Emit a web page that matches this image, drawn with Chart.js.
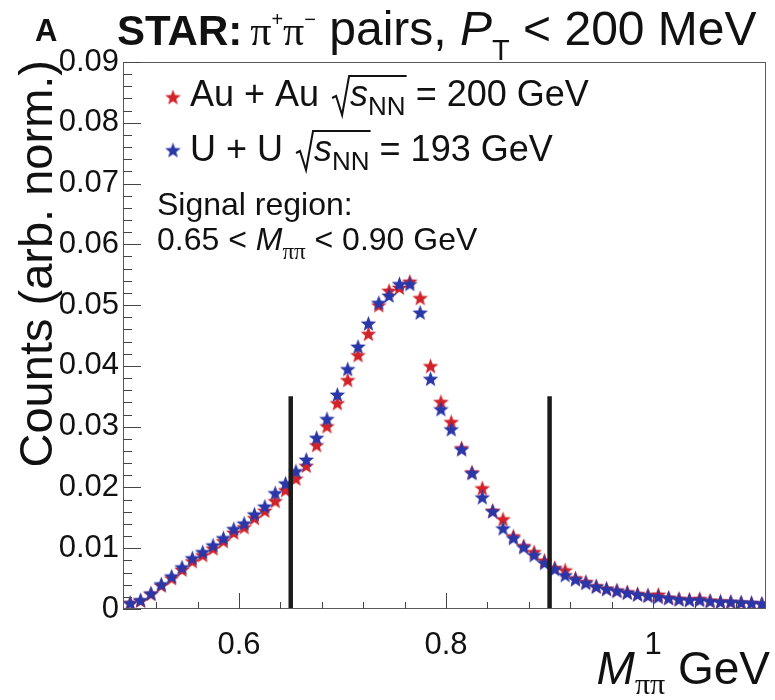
<!DOCTYPE html>
<html>
<head>
<meta charset="utf-8">
<script src="https://cdn.jsdelivr.net/npm/chart.js@4.4.1/dist/chart.umd.min.js"></script>
<style>
  html, body { margin: 0; padding: 0; background: #fff; }
  #wrap { width: 775px; height: 700px; }
</style>
</head>
<body>
<div id="wrap"><canvas id="massChart" width="775" height="700"></canvas></div>
<script>
// pi+pi- invariant mass, bin centres in GeV (10 MeV bins)
const massBins = [
  0.495, 0.505, 0.515, 0.525, 0.535, 0.545, 0.555, 0.565, 0.575, 0.585,
  0.595, 0.605, 0.615, 0.625, 0.635, 0.645, 0.655, 0.665, 0.675, 0.685,
  0.695, 0.705, 0.715, 0.725, 0.735, 0.745, 0.755, 0.765, 0.775, 0.785,
  0.795, 0.805, 0.815, 0.825, 0.835, 0.845, 0.855, 0.865, 0.875, 0.885,
  0.895, 0.905, 0.915, 0.925, 0.935, 0.945, 0.955, 0.965, 0.975, 0.985,
  0.995, 1.005, 1.015, 1.025, 1.035, 1.045, 1.055, 1.065, 1.075, 1.085,
  1.095, 1.105
];

// Au+Au at 200 GeV, normalised counts
const auAuCounts = [
  0.0010, 0.0014, 0.0025, 0.0039, 0.0051, 0.0065, 0.0079, 0.0089, 0.0100, 0.0112,
  0.0126, 0.0135, 0.0150, 0.0162, 0.0178, 0.0196, 0.0215, 0.0236, 0.0270, 0.0301,
  0.0339, 0.0377, 0.0418, 0.0453, 0.0500, 0.0524, 0.0529, 0.0539, 0.0512, 0.0400,
  0.0341, 0.0308, 0.0265, 0.0225, 0.0199, 0.0162, 0.0148, 0.0120, 0.0104, 0.0094,
  0.0080, 0.0068, 0.0064, 0.0051, 0.0045, 0.0038, 0.0034, 0.0031, 0.0028, 0.0025,
  0.0023, 0.0024, 0.0019, 0.0017, 0.0016, 0.0017, 0.0014, 0.0013, 0.0012, 0.0011,
  0.0010, 0.0009
];

// U+U at 193 GeV, normalised counts
const uuCounts = [
  0.0010, 0.0015, 0.0026, 0.0041, 0.0054, 0.0069, 0.0084, 0.0094, 0.0105, 0.0117,
  0.0132, 0.0141, 0.0156, 0.0169, 0.0191, 0.0207, 0.0227, 0.0246, 0.0282, 0.0313,
  0.0353, 0.0395, 0.0432, 0.0470, 0.0504, 0.0516, 0.0535, 0.0535, 0.0488, 0.0379,
  0.0329, 0.0296, 0.0263, 0.0224, 0.0184, 0.0161, 0.0133, 0.0117, 0.0102, 0.0089,
  0.0076, 0.0066, 0.0056, 0.0049, 0.0043, 0.0037, 0.0033, 0.0030, 0.0027, 0.0024,
  0.0022, 0.0020, 0.0018, 0.0016, 0.0015, 0.0015, 0.0013, 0.0012, 0.0012, 0.0011,
  0.0010, 0.0009
];

// signal window edges and the height the marker lines reach
const signalEdges = [0.65, 0.90];
const signalLineTop = 0.035;

// axis ticks
const xMajorTicks = [0.6, 0.8, 1.0];
const xMinorTicks = [0.52, 0.56, 0.64, 0.68, 0.72, 0.76, 0.84, 0.88, 0.92, 0.96, 1.04, 1.08];
const yMajorTicks = [0, 0.01, 0.02, 0.03, 0.04, 0.05, 0.06, 0.07, 0.08, 0.09];
const yMinorStep = 0.002;

const RED = '#d3232a';
const BLUE = '#2a37a8';
const SANS = '"Liberation Sans", Arial, sans-serif';
const SERIF = '"Liberation Serif", "Times New Roman", serif';

// filled five-pointed star, used as the point marker
function starMarker(color, rOut, rIn) {
  const size = Math.ceil(rOut * 2 + 2);
  const c = document.createElement('canvas');
  c.width = size; c.height = size;
  const g = c.getContext('2d');
  g.translate(size / 2, size / 2 + 0.8);
  g.beginPath();
  for (let i = 0; i < 10; i++) {
    const r = i % 2 === 0 ? rOut : rIn;
    const a = -Math.PI / 2 + i * Math.PI / 5;
    g.lineTo(r * Math.cos(a), r * Math.sin(a));
  }
  g.closePath();
  g.fillStyle = color;
  g.fill();
  return c;
}
const redStar = starMarker(RED, 8.2, 3.5);
const blueStar = starMarker(BLUE, 8.2, 3.5);

const toXY = (ys) => massBins.map((m, i) => ({ x: m, y: ys[i] }));

// draw a run of text pieces left to right, each with its own font and offset
function drawRun(ctx, x, y, parts) {
  parts.forEach((p) => {
    ctx.font = p.font;
    x += p.gap || 0;
    ctx.fillText(p.t, x, y + (p.dy || 0));
    x += ctx.measureText(p.t).width;
  });
  return x;
}

// sqrt sign with an overline, returns x where the radicand starts
function drawRadical(ctx, x, base, width) {
  ctx.save();
  ctx.strokeStyle = '#111';
  ctx.lineWidth = 2;
  ctx.beginPath();
  ctx.moveTo(x, base - 8);
  ctx.lineTo(x + 4, base - 10);
  ctx.lineTo(x + 10, base + 9);
  ctx.lineTo(x + 17, base - 30);
  ctx.lineTo(x + 17 + width, base - 30);
  ctx.stroke();
  ctx.restore();
  return x + 18;
}

const decorations = {
  id: 'decorations',
  beforeDraw(chart) {
    const ctx = chart.ctx;
    ctx.save();
    ctx.fillStyle = '#fff';
    ctx.fillRect(0, 0, chart.width, chart.height);
    ctx.restore();
  },
  afterDatasetsDraw(chart) {
    const { ctx, chartArea: a, scales: { x, y } } = chart;
    ctx.save();

    // frame
    ctx.strokeStyle = '#5a5a5a';
    ctx.lineWidth = 1;
    ctx.strokeRect(a.left + 0.5, a.top + 0.5, a.right - a.left - 1, a.bottom - a.top - 1);

    // ticks, pointing into the frame
    ctx.strokeStyle = '#444';
    ctx.beginPath();
    yMajorTicks.forEach((v) => {
      const py = Math.round(y.getPixelForValue(v)) + 0.5;
      ctx.moveTo(a.left, py); ctx.lineTo(a.left + 18, py);
    });
    for (let v = 0; v <= 0.09 + 1e-9; v += yMinorStep) {
      const py = Math.round(y.getPixelForValue(v)) + 0.5;
      ctx.moveTo(a.left, py); ctx.lineTo(a.left + 9, py);
    }
    xMajorTicks.forEach((v) => {
      const px = Math.round(x.getPixelForValue(v)) + 0.5;
      ctx.moveTo(px, a.bottom); ctx.lineTo(px, a.bottom - 16);
    });
    xMinorTicks.forEach((v) => {
      const px = Math.round(x.getPixelForValue(v)) + 0.5;
      ctx.moveTo(px, a.bottom); ctx.lineTo(px, a.bottom - 7);
    });
    ctx.stroke();

    ctx.fillStyle = '#111';
    ctx.textAlign = 'left';
    ctx.textBaseline = 'alphabetic';

    // panel letter and title
    ctx.font = `bold 31px ${SANS}`;
    ctx.fillText('A', 35, 41);
    drawRun(ctx, 117, 45, [
      { t: 'STAR:', font: `bold 42px ${SANS}` },
      { t: 'π', font: `42px ${SERIF}`, gap: 8 },
      { t: '+', font: `20px ${SANS}`, dy: -19 },
      { t: 'π', font: `42px ${SERIF}` },
      { t: '−', font: `20px ${SANS}`, dy: -19 },
      { t: ' pairs, ', font: `48px ${SANS}` },
      { t: 'P', font: `italic 48px ${SANS}` },
      { t: 'T', font: `29px ${SANS}`, dy: 15 },
      { t: ' < 200 MeV', font: `48px ${SANS}` },
    ]);

    // legend
    ctx.drawImage(redStar, 173 - redStar.width / 2, 97 - redStar.height / 2);
    ctx.drawImage(blueStar, 173 - blueStar.width / 2, 150 - blueStar.height / 2);
    [
      { base: 106, label: 'Au + Au ', energy: ' = 200 GeV' },
      { base: 161, label: 'U + U ', energy: ' = 193 GeV' },
    ].forEach((row) => {
      ctx.font = `36px ${SANS}`;
      let cx = 190 + ctx.measureText(row.label).width + 3;
      ctx.font = `italic 36px ${SANS}`;
      const sW = ctx.measureText('s').width;
      ctx.font = `26px ${SANS}`;
      const nnW = ctx.measureText('NN').width;
      drawRun(ctx, 190, row.base, [{ t: row.label, font: `36px ${SANS}` }]);
      cx = drawRadical(ctx, cx, row.base, sW + nnW + 2);
      drawRun(ctx, cx, row.base, [
        { t: 's', font: `italic 36px ${SANS}` },
        { t: 'NN', font: `26px ${SANS}`, dy: 9 },
        { t: row.energy, font: `36px ${SANS}` },
      ]);
    });

    // signal window note
    ctx.font = `32px ${SANS}`;
    ctx.fillText('Signal region:', 157, 215);
    drawRun(ctx, 157, 250, [
      { t: '0.65 < ', font: `32px ${SANS}` },
      { t: 'M', font: `italic 32px ${SANS}` },
      { t: 'ππ', font: `23px ${SERIF}`, dy: 9 },
      { t: ' < 0.90 GeV', font: `32px ${SANS}` },
    ]);

    // x axis title, right aligned to the frame
    ctx.font = `italic 46px ${SANS}`;
    const mW = ctx.measureText('M').width;
    ctx.font = `30px ${SERIF}`;
    const ppW = ctx.measureText('ππ').width;
    ctx.font = `46px ${SANS}`;
    const gW = ctx.measureText(' GeV').width;
    drawRun(ctx, 770 - mW - ppW - gW, 684, [
      { t: 'M', font: `italic 46px ${SANS}` },
      { t: 'ππ', font: `30px ${SERIF}`, dy: 10 },
      { t: ' GeV', font: `46px ${SANS}` },
    ]);

    // y axis title, rotated, ending at the top of the frame
    ctx.save();
    ctx.translate(52, 60);
    ctx.rotate(-Math.PI / 2);
    ctx.textAlign = 'right';
    ctx.font = `47px ${SANS}`;
    ctx.fillText('Counts (arb. norm.)', 0, 0);
    ctx.restore();

    ctx.restore();
  },
};

const signalLine = (m) => ({
  type: 'line',
  data: [{ x: m, y: 0 }, { x: m, y: signalLineTop }],
  borderColor: '#1b1b1b',
  borderWidth: 4.5,
  pointRadius: 0,
  order: 0,
});

new Chart(document.getElementById('massChart'), {
  type: 'scatter',
  data: {
    datasets: [
      ...signalEdges.map(signalLine),
      { label: 'U + U', data: toXY(uuCounts), pointStyle: blueStar, pointRadius: 8, order: 1 },
      { label: 'Au + Au', data: toXY(auAuCounts), pointStyle: redStar, pointRadius: 8, order: 2 },
    ],
  },
  options: {
    responsive: false,
    animation: false,
    devicePixelRatio: 1,
    layout: { padding: { top: 62, right: 2, left: 0, bottom: 0 } },
    plugins: { legend: { display: false }, tooltip: { enabled: false } },
    scales: {
      x: {
        type: 'linear', min: 0.488, max: 1.109,
        afterBuildTicks: (s) => { s.ticks = xMajorTicks.map((v) => ({ value: v })); },
        afterFit: (s) => { s.height = 91; },
        grid: { display: false, drawTicks: false },
        border: { display: false },
        ticks: {
          color: '#111', padding: 18, maxRotation: 0, autoSkip: false,
          font: { family: SANS, size: 31 },
          callback: (v) => (v === 1 ? '1' : Number(v).toFixed(1)),
        },
      },
      y: {
        type: 'linear', min: 0, max: 0.09,
        afterBuildTicks: (s) => { s.ticks = yMajorTicks.map((v) => ({ value: v })); },
        afterFit: (s) => { s.width = 123; },
        grid: { display: false, drawTicks: false },
        border: { display: false },
        ticks: {
          color: '#111', padding: 4, autoSkip: false,
          font: { family: SANS, size: 31 },
          callback: (v) => (v === 0 ? '0' : Number(v).toFixed(2)),
        },
      },
    },
  },
  plugins: [decorations],
});
</script>
</body>
</html>
